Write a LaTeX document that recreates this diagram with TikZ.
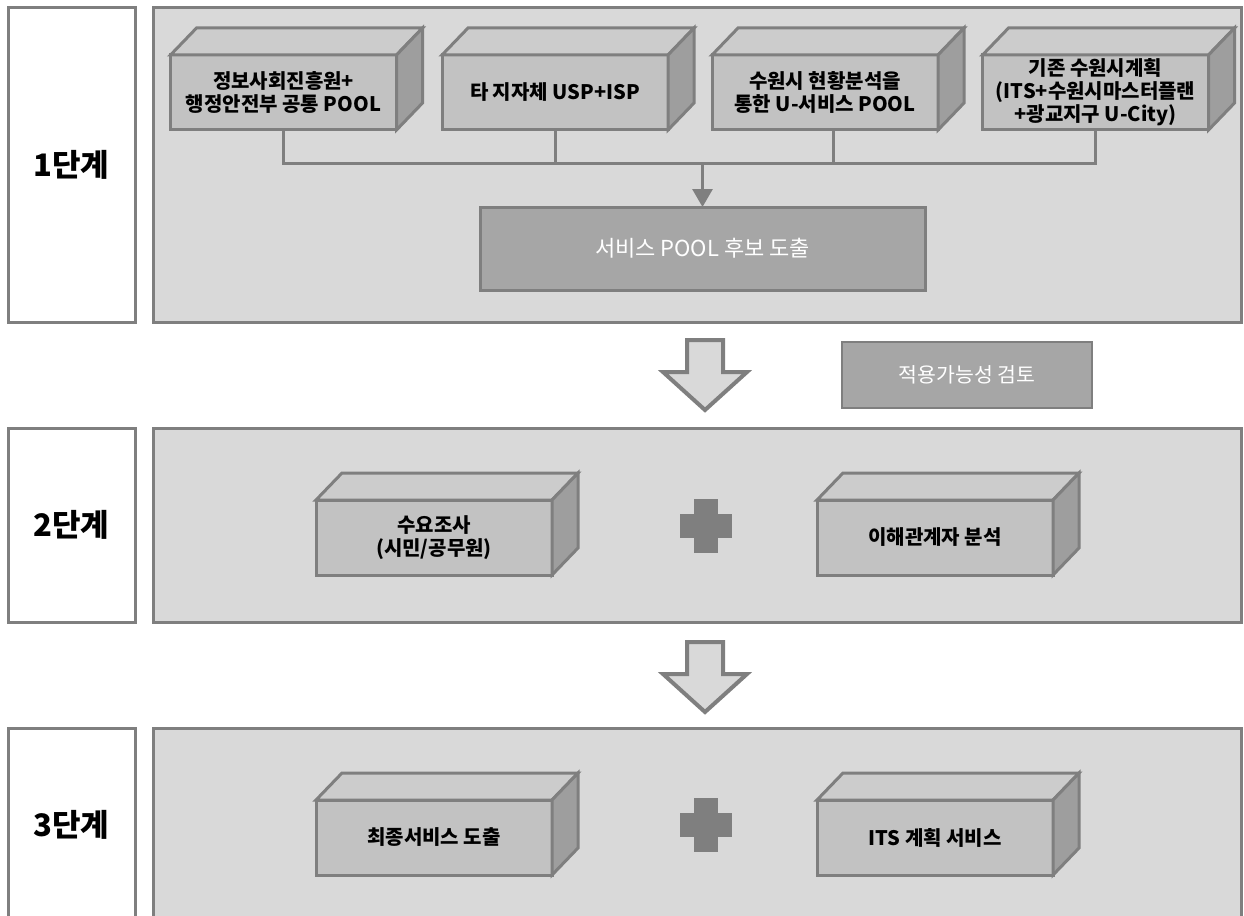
\documentclass[tikz,border=0pt]{standalone}
\usepackage{fontspec}
\setmainfont{Noto Sans CJK KR}
\usetikzlibrary{calc, positioning}
\usetikzlibrary{arrows.meta}

\definecolor{edgegray}{HTML}{7F7F7F}
\definecolor{panelgray}{HTML}{D9D9D9}
\definecolor{frontgray}{HTML}{C2C2C2}
\definecolor{topgray}{HTML}{CCCCCC}
\definecolor{sidegray}{HTML}{9E9E9E}
\definecolor{poolgray}{HTML}{A6A6A6}

\tikzset{
  stagebox/.style={draw=edgegray, line width=3pt, fill=white, minimum width=127pt,
    font=\bfseries\fontsize{31}{34}\selectfont},
  panel/.style={draw=edgegray, line width=3pt, fill=panelgray, minimum width=1088pt},
  facebox/.style={draw=edgegray, line width=3pt, fill=frontgray, outer sep=0pt,
    minimum height=75pt, align=center, inner sep=0pt,
    font=\bfseries\fontsize{20}{23}\selectfont},
  topface/.style={draw=edgegray, line width=3pt, fill=topgray},
  sideface/.style={draw=edgegray, line width=3pt, fill=sidegray},
  darkbox/.style={draw=edgegray, line width=2pt, fill=poolgray, text=white, outer sep=0pt},
  link/.style={draw=edgegray, line width=3pt},
  hollow/.style={draw=edgegray, line width=4pt, fill=panelgray, line join=miter},
  plusbar/.style={fill=edgegray}
}

\begin{document}
\begin{tikzpicture}[x=1pt, y=-1pt]
\useasboundingbox (0,0) rectangle (1244,915);
\def\dx{26}
\def\dy{27}
\node[stagebox, minimum height=314pt] (s1) at (71.5,165) {1단계};
\node[stagebox, minimum height=194pt] (s2) at (71.5,525) {2단계};
\node[stagebox, minimum height=194pt] (s3) at (71.5,825) {3단계};
\node[panel, minimum height=314pt] (p1) at (697,165) {};
\node[panel, minimum height=194pt] (p2) at (697,525) {};
\node[panel, minimum height=194pt] (p3) at (697,825) {};

\node[facebox, minimum width=226pt] (b1) at (283.5,92.5) {정보사회진흥원+\\행정안전부 공통 POOL};
\node[facebox, minimum width=226pt] (b2) at (555,92.5) {타 지자체 USP+ISP};
\node[facebox, minimum width=226pt] (b3) at (825,92.5) {수원시 현황분석을\\통한 U-서비스 POOL};
\node[facebox, minimum width=226pt] (b4) at (1095.5,92.5) {기존 수원시계획\\(ITS+수원시마스터플랜\\+광교지구 U-City)};
\node[darkbox, minimum width=445pt, minimum height=83pt, line width=3pt,
  font=\fontsize{22}{26}\selectfont] (pool) at (702.5,248.5) {서비스 POOL 후보 도출};
\node[darkbox, minimum width=250pt, minimum height=66pt,
  font=\fontsize{20.5}{24}\selectfont] (fit) at (967,375) {적용가능성 검토};

\node[facebox, minimum width=236pt] (m1) at (434,537.5) {수요조사\\(시민/공무원)};
\node[facebox, minimum width=236pt] (m2) at (935,537.5) {이해관계자 분석};
\node[facebox, minimum width=236pt] (f1) at (434,837.5) {최종서비스 도출};
\node[facebox, minimum width=236pt] (f2) at (935,837.5) {ITS 계획 서비스};

\foreach \b in {b1,b2,b3,b4,m1,m2,f1,f2}{
  \draw[topface] (\b.north west) -- ++(\dx,-\dy) -- ($(\b.north east)+(\dx,-\dy)$) -- (\b.north east) -- cycle;
  \draw[sideface] (\b.north east) -- ++(\dx,-\dy) -- ($(\b.south east)+(\dx,-\dy)$) -- (\b.south east) -- cycle;
}

\coordinate (bus) at (0,163);
\draw[link] (b1.south) -- (b1.south |- bus) -- (b4.south |- bus) -- (b4.south);
\draw[link] (b2.south) -- (b2.south |- bus);
\draw[link] ($(b3.south)+(8,0)$) -- ($(b3.south |- bus)+(8,0)$);
\draw[link, -{Triangle[width=20pt, length=18pt]}] (pool.north |- bus) -- (pool.north);

\foreach \ay in {340,642}{
  \draw[hollow] (687,\ay) -- (723,\ay) -- (723,\ay+32) -- (747,\ay+32)
    -- (705,\ay+70) -- (663,\ay+32) -- (687,\ay+32) -- cycle;
}
\foreach \py in {526,825}{
  \fill[plusbar] (694,\py-27) rectangle (718,\py+27);
  \fill[plusbar] (680,\py-12) rectangle (732,\py+12);
}
\end{tikzpicture}
\end{document}
